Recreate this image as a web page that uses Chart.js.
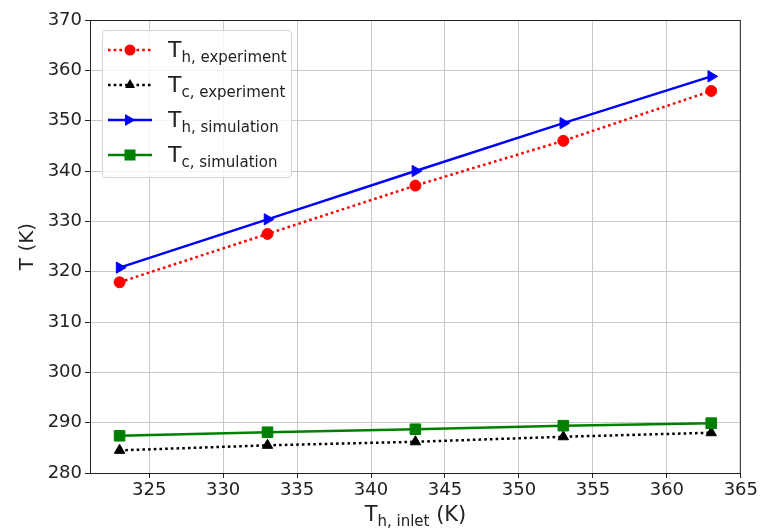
<!DOCTYPE html>
<html>
<head>
<meta charset="utf-8">
<script src="https://cdn.jsdelivr.net/npm/chart.js@4.4.1/dist/chart.umd.min.js"></script>
<style>
  body { margin: 0; background: #fff; font-family: "DejaVu Sans", sans-serif; }
  #wrap { position: relative; width: 760px; height: 531px; }
  #legend {
    position: absolute; left: 102px; top: 30px; width: 188px;
    padding: 1px 0 5px 0; border: 1px solid #d6d6d6; border-radius: 4px;
    background: rgba(255,255,255,0.8);
  }
  .row { height: 35px; display: flex; align-items: center; }
  .row svg { margin-left: 5px; margin-right: 16px; flex: none; }
  .lbl { font-size: 22px; color: #222; white-space: nowrap; }
  .lbl sub, #xtitle sub { font-size: 15px; vertical-align: -5px; line-height: 0; }
  #xtitle {
    position: absolute; left: 90px; width: 651px; top: 502px;
    text-align: center; font-size: 21px; line-height: 24px; color: #222;
  }
</style>
</head>
<body>
<div id="wrap">
  <canvas id="tempChart" width="760" height="531"></canvas>
  <div id="legend"></div>
  <div id="xtitle">T<sub>h, inlet</sub> (K)</div>
</div>
<script>
  // values
  const inletTemps = [323, 333, 343, 353, 363];
  const thExperiment = [317.9, 327.5, 337.1, 346.0, 355.9];
  const tcExperiment = [284.5, 285.5, 286.2, 287.2, 288.0];
  const thSimulation = [320.8, 330.4, 340.0, 349.5, 358.8];
  const tcSimulation = [287.4, 288.1, 288.7, 289.4, 289.9];

  const xTicks = [325, 330, 335, 340, 345, 350, 355, 360, 365];
  const yTicks = [280, 290, 300, 310, 320, 330, 340, 350, 360, 370];

  const legendSubs = ["h, experiment", "c, experiment", "h, simulation", "c, simulation"];

  const toPoints = (ys) => inletTemps.map((x, i) => ({ x: x, y: ys[i] }));

  const dotted = [2.6, 3.1];
  const tickFont = { family: "DejaVu Sans", size: 18 };

  const series = [
    { data: thExperiment, color: "#ff0000", dash: dotted, style: "circle", radius: 5.5, rot: 0, order: 3 },
    { data: tcExperiment, color: "#000000", dash: dotted, style: "triangle", radius: 6, rot: 0, order: 2 },
    { data: thSimulation, color: "#0000ff", dash: [], style: "triangle", radius: 6.5, rot: 90, order: 1 },
    { data: tcSimulation, color: "#008000", dash: [], style: "rect", radius: 7.5, rot: 0, order: 0 },
  ];

  const frame = {
    id: "frame",
    afterDatasetsDraw(chart) {
      const { ctx, chartArea: a } = chart;
      ctx.save();
      ctx.strokeStyle = "#222";
      ctx.lineWidth = 1;
      ctx.strokeRect(a.left + 0.5, a.top + 0.5, a.right - a.left - 1, a.bottom - a.top);
      ctx.restore();
    },
  };

  new Chart(document.getElementById("tempChart"), {
    type: "line",
    data: {
      datasets: series.map((s, i) => ({
        label: "T" + legendSubs[i],
        data: toPoints(s.data),
        borderColor: s.color,
        backgroundColor: s.color,
        borderWidth: 2.5,
        borderDash: s.dash,
        pointStyle: s.style,
        pointRadius: s.radius,
        pointRotation: s.rot,
        pointBorderWidth: 1,
        pointBorderColor: s.color,
        pointBackgroundColor: s.color,
        tension: 0,
        fill: false,
        order: s.order,
      })),
    },
    options: {
      responsive: false,
      animation: false,
      devicePixelRatio: 1,
      layout: { padding: { top: 20, right: 19, left: 0, bottom: 0 } },
      plugins: { legend: { display: false }, tooltip: { enabled: false } },
      scales: {
        x: {
          type: "linear",
          min: 321,
          max: 365,
          afterBuildTicks: (scale) => { scale.ticks = xTicks.map((v) => ({ value: v })); },
          afterFit: (scale) => { scale.height = 58; },
          ticks: { font: tickFont, color: "#222", padding: 2, maxRotation: 0 },
          grid: { color: "#c8c8c8", tickColor: "#222", tickLength: 5 },
          border: { color: "#222", width: 1 },
        },
        y: {
          min: 280,
          max: 370,
          afterBuildTicks: (scale) => { scale.ticks = yTicks.map((v) => ({ value: v })); },
          afterFit: (scale) => { scale.width = 90; },
          ticks: { font: tickFont, color: "#222", padding: 3 },
          grid: { color: "#c8c8c8", tickColor: "#222", tickLength: 5 },
          border: { color: "#222", width: 1 },
          title: {
            display: true,
            text: "T (K)",
            color: "#222",
            font: { family: "DejaVu Sans", size: 20 },
            padding: { top: 16 },
          },
        },
      },
    },
    plugins: [frame],
  });

  // legend with subscripts, built from the same series list
  function marker(s) {
    const c = s.color;
    if (s.style === "circle") return `<circle cx="22" cy="10" r="5.5" fill="${c}"/>`;
    if (s.style === "rect") return `<rect x="16.5" y="4.5" width="11" height="11" fill="${c}"/>`;
    if (s.rot === 90) return `<polygon points="27.5,10 17,4 17,16" fill="${c}"/>`;
    return `<polygon points="22,4 27,13 17,13" fill="${c}"/>`;
  }
  const legendEl = document.getElementById("legend");
  series.forEach((s, i) => {
    const dash = s.dash.length ? `stroke-dasharray="${s.dash.join(" ")}"` : "";
    legendEl.innerHTML +=
      `<div class="row"><svg width="44" height="20">` +
      `<line x1="0" y1="10" x2="44" y2="10" stroke="${s.color}" stroke-width="2.5" ${dash}/>` +
      marker(s) +
      `</svg><span class="lbl">T<sub>${legendSubs[i]}</sub></span></div>`;
  });
</script>
</body>
</html>
